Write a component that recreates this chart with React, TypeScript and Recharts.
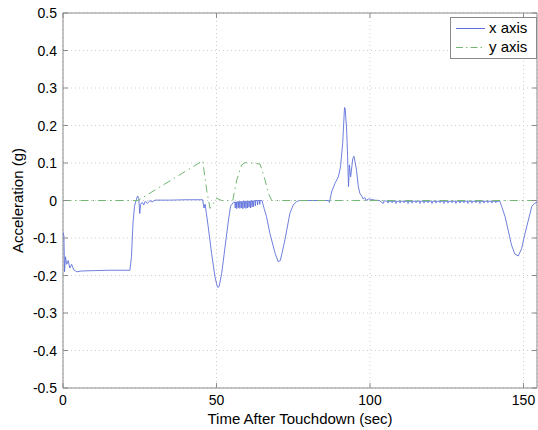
import React from 'react';
import { LineChart, Line, XAxis, YAxis, CartesianGrid, ReferenceArea } from 'recharts';

// x axis acceleration (blue): [time (sec), acceleration (g)]
const xAxisPoints: [number, number][] = [
  [0, -0.085], [0.3, -0.095], [0.5, -0.19], [0.8, -0.15], [1.2, -0.17], [1.7, -0.16], [2.2, -0.18],
  [2.8, -0.17], [3.5, -0.185], [4.5, -0.19], [6, -0.188], [10, -0.187], [15, -0.186], [21.8, -0.186],
  [22.3, -0.15], [22.8, -0.06], [23.3, -0.015], [23.8, 0.0], [24.3, 0.012], [24.7, 0.005], [25.0, -0.035],
  [25.3, -0.01], [25.8, -0.005], [26.3, -0.012], [26.8, -0.002], [27.5, -0.008], [28.3, 0], [29, -0.004],
  [30, 0.001], [35, 0.001], [40, 0.002], [45.5, 0.002], [45.9, -0.02], [46.3, -0.01], [46.7, -0.034],
  [47.3, -0.07], [48.4, -0.141], [49.5, -0.203], [50.1, -0.225], [50.5, -0.232], [50.9, -0.228],
  [51.7, -0.194], [52.8, -0.123], [53.9, -0.052], [54.6, -0.015], [55.5, -0.005],
  [56.0, -0.004], [56.1, -0.02], [56.2, -0.004], [56.5, -0.004], [56.6, -0.022], [56.7, -0.004],
  [57.0, -0.003], [57.1, -0.019], [57.2, -0.003], [57.5, -0.003], [57.6, -0.021], [57.7, -0.003],
  [58.0, -0.003], [58.1, -0.02], [58.2, -0.003], [58.5, -0.003], [58.6, -0.022], [58.7, -0.002],
  [59.0, -0.002], [59.1, -0.019], [59.2, -0.002], [59.5, -0.002], [59.6, -0.021], [59.7, -0.002],
  [60.0, -0.002], [60.1, -0.02], [60.2, -0.002], [60.5, -0.002], [60.6, -0.018], [60.7, -0.002],
  [61.0, -0.001], [61.1, -0.02], [61.2, -0.001], [61.5, -0.001], [61.6, -0.017], [61.7, -0.001],
  [62.0, -0.001], [62.1, -0.016], [62.2, -0.001], [62.6, 0], [62.7, -0.014], [62.8, 0],
  [63.3, 0], [63.4, -0.012], [63.5, 0], [64.0, 0], [64.1, -0.01], [64.2, 0], [64.8, 0],
  [65.5, -0.021], [66.3, -0.043], [67.4, -0.088], [69.1, -0.141], [70.1, -0.163], [70.8, -0.16],
  [72.3, -0.105], [73.9, -0.034], [75, -0.012], [76.1, -0.003], [77, 0], [86.5, 0], [86.8, -0.005],
  [87.5, 0.023], [88.6, 0.046], [89.7, 0.063], [90.4, 0.09], [91.1, 0.152], [91.7, 0.248], [91.9, 0.246],
  [92.4, 0.188], [92.7, 0.117], [93.0, 0.037], [93.3, 0.095], [93.7, 0.063], [94.4, 0.112], [94.8, 0.118],
  [95.6, 0.081], [96.2, 0.037], [96.7, 0.019], [97.3, 0.012], [97.8, 0.004], [98.3, 0.008], [98.7, 0],
  [99.5, 0.004], [100.5, 0.003], [101.5, 0.001], [103, 0], [104.3, -0.008], [104.6, -0.001],
  [105.8, -0.002], [105.9, -0.007], [106.0, -0.002], [107.1, -0.002], [107.2, -0.006], [107.3, -0.002],
  [108.4, -0.002], [108.5, -0.008], [108.6, -0.002], [109.7, -0.002], [109.8, -0.007], [109.9, -0.002],
  [111.0, -0.002], [111.1, -0.006], [111.2, -0.002], [112.3, -0.002], [112.4, -0.008], [112.5, -0.002],
  [113.6, -0.002], [113.7, -0.007], [113.8, -0.002], [114.9, -0.002], [115.0, -0.006], [115.1, -0.002],
  [116.2, -0.002], [116.3, -0.008], [116.4, -0.002], [117.5, -0.002], [117.6, -0.007], [117.7, -0.002],
  [118.8, -0.002], [118.9, -0.006], [119.0, -0.002], [120.1, -0.002], [120.2, -0.008], [120.3, -0.002],
  [121.4, -0.002], [121.5, -0.007], [121.6, -0.002], [122.7, -0.002], [122.8, -0.006], [122.9, -0.002],
  [124.0, -0.002], [124.1, -0.008], [124.2, -0.002], [125.3, -0.002], [125.4, -0.007], [125.5, -0.002],
  [126.6, -0.002], [126.7, -0.006], [126.8, -0.002], [127.9, -0.002], [128.0, -0.008], [128.1, -0.002],
  [129.2, -0.002], [129.3, -0.007], [129.4, -0.002], [130.5, -0.002], [130.6, -0.006], [130.7, -0.002],
  [131.8, -0.002], [131.9, -0.008], [132.0, -0.002], [133.1, -0.002], [133.2, -0.007], [133.3, -0.002],
  [134.4, -0.002], [134.5, -0.006], [134.6, -0.002], [135.7, -0.002], [135.8, -0.008], [135.9, -0.002],
  [137.0, -0.002], [137.1, -0.007], [137.2, -0.002], [138.3, -0.002], [138.4, -0.006], [138.5, -0.002],
  [139.6, -0.002], [139.7, -0.007], [139.8, -0.002], [140.9, -0.002], [141.0, -0.006], [141.1, -0.002],
  [142.3, -0.002], [142.9, -0.016], [144, -0.043], [145, -0.079], [146.1, -0.119], [147.2, -0.143],
  [148.3, -0.148], [149.4, -0.128], [150.5, -0.088], [151.6, -0.052], [152.7, -0.016], [153.5, -0.008],
  [154.4, -0.005],
];

// y axis acceleration (green): [time (sec), acceleration (g)]
const yAxisPoints: [number, number][] = [
  [0, 0], [24.4, 0], [45.5, 0.106], [46.8, 0.028], [47.9, -0.021], [50.1, 0.006], [51.7, 0], [55.3, 0],
  [56.6, 0.055], [58.2, 0.095], [59.3, 0.101], [62, 0.1], [64.2, 0.097], [65.8, 0.055], [66.9, 0.019],
  [68, 0], [154.4, 0],
];

const xTicks = [0, 50, 100, 150];
const yTicks = [-0.5, -0.4, -0.3, -0.2, -0.1, 0, 0.1, 0.2, 0.3, 0.4, 0.5];
const seriesNames = ['x axis', 'y axis'];
const xDomainMax = 154.4;

const xSeries = xAxisPoints.map(([t, v]) => ({ t, v }));
const ySeries = yAxisPoints.map(([t, v]) => ({ t, v }));

const FONT = '"Liberation Sans", Arial, Helvetica, sans-serif';
const BLUE = '#5f70da';
const GREEN = '#72b872';
const AXIS = '#8a8a8a';

const PLOT_L = 63;
const PLOT_R = 537;
const PLOT_T = 13;
const PLOT_B = 388;

const fmtY = (v: number) => (Math.abs(v) < 1e-9 ? '0' : v.toFixed(1));

const YTick = (props: any) => {
  const { y, payload } = props;
  return (
    <g>
      <text x={PLOT_L - 6} y={y} dy={5} textAnchor="end" fontSize={14} fontFamily={FONT} fill="#000">
        {fmtY(payload.value)}
      </text>
      <line x1={PLOT_L} x2={PLOT_L + 5} y1={y} y2={y} stroke={AXIS} />
      <line x1={PLOT_R - 5} x2={PLOT_R} y1={y} y2={y} stroke={AXIS} />
    </g>
  );
};

const XTick = (props: any) => {
  const { x, payload } = props;
  return (
    <g>
      <text x={x} y={PLOT_B + 17} textAnchor="middle" fontSize={14} fontFamily={FONT} fill="#000">
        {payload.value}
      </text>
      <line x1={x} x2={x} y1={PLOT_B} y2={PLOT_B - 5} stroke={AXIS} />
      <line x1={x} x2={x} y1={PLOT_T} y2={PLOT_T + 5} stroke={AXIS} />
    </g>
  );
};

const LegendBox = () => (
  <svg width={87} height={42} style={{ display: 'block' }}>
    <rect x={0.5} y={0.5} width={86} height={41} fill="#fff" stroke={AXIS} />
    <line x1={6} x2={35} y1={11.5} y2={11.5} stroke={BLUE} strokeWidth={1} />
    <text x={39} y={16} fontSize={15} fontFamily={FONT} fill="#000">{seriesNames[0]}</text>
    <line x1={6} x2={35} y1={30.5} y2={30.5} stroke={GREEN} strokeWidth={1} strokeDasharray="7 3 1.5 3" />
    <text x={39} y={35} fontSize={15} fontFamily={FONT} fill="#000">{seriesNames[1]}</text>
  </svg>
);

export default function App() {
  return (
    <div style={{ position: 'absolute', left: 0, top: 0, width: 538, height: 430, background: '#fff' }}>
      <LineChart
        width={538}
        height={430}
        margin={{ top: PLOT_T, right: 538 - PLOT_R, bottom: 0, left: 0 }}
      >
        <CartesianGrid stroke="#cfcfcf" strokeDasharray="1 3" />
        <XAxis
          dataKey="t"
          type="number"
          domain={[0, xDomainMax]}
          ticks={xTicks}
          allowDataOverflow
          height={430 - PLOT_B}
          axisLine={false}
          tickLine={false}
          tick={<XTick />}
          label={{ value: 'Time After Touchdown (sec)', position: 'insideBottom', offset: 6, fontSize: 15, fontFamily: FONT, fill: '#000' }}
        />
        <YAxis
          dataKey="v"
          type="number"
          domain={[-0.5, 0.5]}
          ticks={yTicks}
          allowDataOverflow
          width={PLOT_L}
          axisLine={false}
          tickLine={false}
          tick={<YTick />}
          label={{ value: 'Acceleration (g)', angle: -90, position: 'insideLeft', offset: 18, style: { textAnchor: 'middle' }, fontSize: 15, fontFamily: FONT, fill: '#000' }}
        />
        <ReferenceArea x1={0} x2={xDomainMax} y1={-0.5} y2={0.5} fill="none" stroke={AXIS} strokeWidth={1} ifOverflow="visible" />
        <Line
          data={xSeries}
          dataKey="v"
          name={seriesNames[0]}
          stroke={BLUE}
          strokeWidth={0.9}
          dot={false}
          type="linear"
          isAnimationActive={false}
        />
        <Line
          data={ySeries}
          dataKey="v"
          name={seriesNames[1]}
          stroke={GREEN}
          strokeWidth={1}
          strokeDasharray="8 4 1.5 4"
          dot={false}
          type="linear"
          isAnimationActive={false}
        />
      </LineChart>
      <div style={{ position: 'absolute', left: 450, top: 17 }}>
        <LegendBox />
      </div>
    </div>
  );
}
